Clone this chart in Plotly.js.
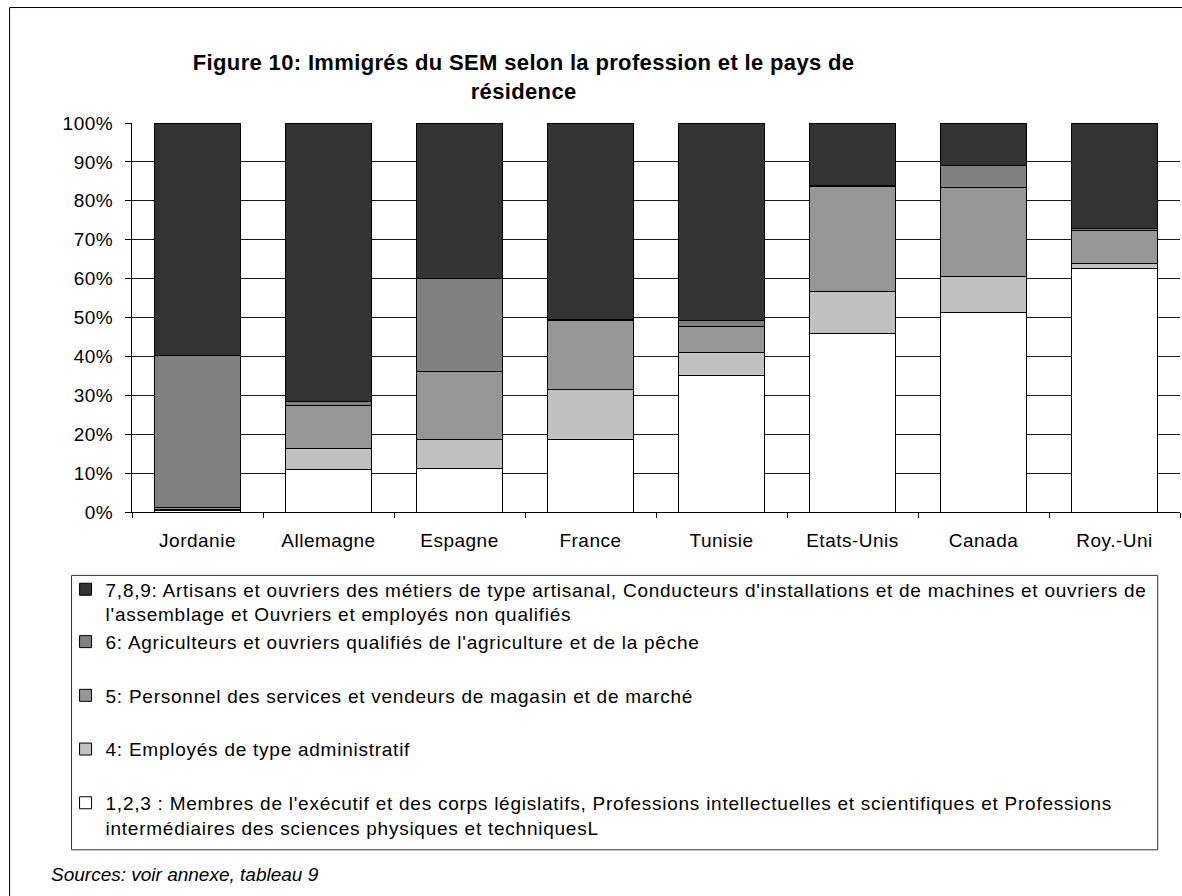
<!DOCTYPE html>
<html>
<head>
<meta charset="utf-8">
<script src="https://cdn.plot.ly/plotly-3.0.1.min.js"></script>
<style>
html, body { margin: 0; padding: 0; background: #fff; overflow: hidden; }
#chart { width: 1182px; height: 896px; }
.legendtext { letter-spacing: 0.75px; }
.xtick text, .ytick text { letter-spacing: 0.5px; }
.gtitle { letter-spacing: 0.35px; }
</style>
</head>
<body>
<div id="chart"></div>
<script>
// Categories (countries of residence)
const categories = ['Jordanie', 'Allemagne', 'Espagne', 'France', 'Tunisie', 'Etats-Unis', 'Canada', 'Roy.-Uni'];

// Shares (%) by occupation group
const prof123 = [0.3, 10.9, 11.3, 18.7, 35.0, 45.8, 51.2, 62.5];
const prof4   = [0.3, 5.3, 7.4, 12.8, 5.9, 10.8, 9.3, 1.5];
const prof5   = [0.5, 11.3, 17.3, 17.7, 6.8, 27.1, 22.8, 8.3];
const prof6   = [39.2, 1.0, 24.0, 0.3, 1.5, 0.2, 5.8, 0.7];
const prof789 = [59.7, 71.5, 40.0, 50.5, 50.8, 16.1, 10.9, 27.0];

// Series names (legend)
const name123 = "1,2,3 : Membres de l'exécutif et des corps législatifs, Professions intellectuelles et scientifiques et Professions<br>intermédiaires des sciences physiques et techniquesL";
const name4 = "4: Employés de type administratif";
const name5 = "5: Personnel des services et vendeurs de magasin et de marché";
const name6 = "6: Agriculteurs et ouvriers qualifiés de l'agriculture et de la pêche";
const name789 = "7,8,9: Artisans et ouvriers des métiers de type artisanal, Conducteurs d'installations et de machines et ouvriers de<br>l'assemblage et Ouvriers et employés non qualifiés";

const titleText = 'Figure 10: Immigrés du SEM selon la profession et le pays de<br>résidence';
const sourceText = 'Sources: voir annexe, tableau 9';

const FONT = '"Liberation Sans", Arial, sans-serif';

// pixel -> paper helpers (plot area: x 131.5..1180.3, y 123.3..511.7)
const PX0 = 131.5, PW = 1048.8, PY0 = 511.7, PH = 388.4;
const px = v => (v - PX0) / PW;
const py = v => (PY0 - v) / PH;

function barTrace(values, name, color, group, rank) {
  return {
    type: 'bar',
    x: categories,
    y: values,
    name: name,
    legendgroup: group,
    legendrank: rank,
    marker: { color: color, line: { color: '#000000', width: 1 } },
    hoverinfo: 'skip'
  };
}

const data = [
  barTrace(prof123, name123, '#FFFFFF', 'd', 5),
  barTrace(prof4, name4, '#C0C0C0', 'c', 4),
  barTrace(prof5, name5, '#969696', 'b', 3),
  barTrace(prof6, name6, '#808080', 'a', 2),
  barTrace(prof789, name789, '#333333', 'a', 1)
];

const layout = {
  width: 1182,
  height: 896,
  paper_bgcolor: '#FFFFFF',
  plot_bgcolor: '#FFFFFF',
  font: { family: FONT, size: 19, color: '#000000' },
  margin: { l: 131.5, r: 1.7, t: 123.3, b: 384.3, pad: 0 },
  barmode: 'stack',
  bargap: 0.34,
  showlegend: true,
  title: {
    text: titleText,
    font: { family: FONT, size: 22, color: '#000000', weight: 'bold' },
    xref: 'container', x: 0.443, xanchor: 'center',
    yref: 'container', y: 1 - 70 / 896, yanchor: 'middle'
  },
  xaxis: {
    type: 'category',
    showline: true, linecolor: '#000000', linewidth: 1,
    ticks: 'outside', tickson: 'boundaries', ticklen: 5, tickcolor: '#000000', tickwidth: 1,
    showgrid: false, zeroline: false,
    tickfont: { family: FONT, size: 19, color: '#000000' },
    ticklabelstandoff: 11,
    fixedrange: true
  },
  yaxis: {
    range: [0, 100],
    dtick: 10,
    ticksuffix: '%',
    showline: true, linecolor: '#000000', linewidth: 1,
    ticks: 'outside', ticklen: 6, tickcolor: '#000000', tickwidth: 1,
    showgrid: true, gridcolor: '#1a1a1a', gridwidth: 1,
    zeroline: false,
    tickfont: { family: FONT, size: 19, color: '#000000' },
    ticklabelstandoff: 8,
    fixedrange: true
  },
  legend: {
    orientation: 'v',
    x: px(65), xanchor: 'left',
    y: py(570), yanchor: 'top',
    bgcolor: 'rgba(0,0,0,0)', borderwidth: 0,
    font: { family: FONT, size: 19, color: '#000000' },
    traceorder: 'grouped',
    tracegroupgap: 26,
    valign: 'top',
    itemclick: false, itemdoubleclick: false
  },
  shapes: [
    { // outer chart frame
      type: 'rect', xref: 'paper', yref: 'paper', layer: 'below',
      x0: px(9), x1: 1.2, y0: py(8), y1: -1.2,
      line: { color: '#000000', width: 1 }, fillcolor: 'rgba(0,0,0,0)'
    },
    { // legend frame
      type: 'rect', xref: 'paper', yref: 'paper', layer: 'below',
      x0: px(71), x1: px(1158), y0: py(575), y1: py(849),
      line: { color: '#333333', width: 1 }, fillcolor: '#FFFFFF'
    }
  ],
  annotations: [{
    text: '<i>' + sourceText + '</i>',
    xref: 'paper', yref: 'paper',
    x: px(48), xanchor: 'left',
    y: py(874), yanchor: 'middle',
    showarrow: false,
    font: { family: FONT, size: 19, color: '#000000' }
  }]
};

Plotly.newPlot('chart', data, layout, { displayModeBar: false, responsive: false });
</script>
</body>
</html>
